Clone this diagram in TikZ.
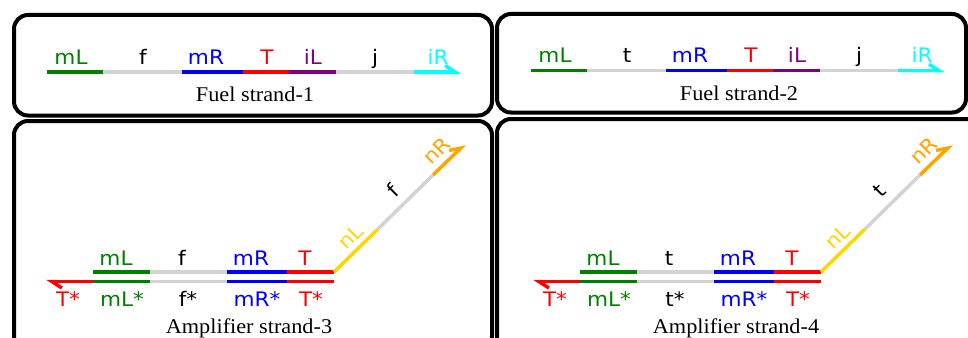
\documentclass[tikz,border=0pt]{standalone}
\usepackage{fontspec}
\setmainfont{Liberation Serif}[FakeStretch=1.06]
\newfontfamily\lblfont{DejaVu Sans}[FakeStretch=1.08]
\usetikzlibrary{arrows.meta}
\definecolor{dgreen}{RGB}{0,128,0}
\definecolor{dblue}{RGB}{0,0,255}
\definecolor{dred}{RGB}{255,0,0}
\definecolor{dpurple}{RGB}{128,0,128}
\definecolor{dcyan}{RGB}{0,255,255}
\definecolor{dgray}{RGB}{211,211,211}
\definecolor{dgold}{RGB}{255,215,0}
\definecolor{dorange}{RGB}{255,165,0}
\tikzset{
  panel/.style={draw=black, line width=4pt, rounded corners=14pt},
  seg/.style={line width=3.5pt},
  harp/.style={-{Straight Barb[harpoon,length=10pt,width=13pt]}},
  lbl/.style={font=\lblfont\fontsize{20}{21}\selectfont, anchor=base, inner sep=0pt},
  dlbl/.style={font=\lblfont\fontsize{20}{21}\selectfont, anchor=center, inner sep=0pt, rotate=45},
  captxt/.style={font=\fontsize{21}{22}\selectfont, anchor=base, inner sep=0pt},
}
\begin{document}
\begin{tikzpicture}[x=1pt,y=-1pt]
\useasboundingbox (0,0) rectangle (968,337);
\clip (0,0) rectangle (968,337);
\fill[white] (0,0) rectangle (968,337);

% panels
\draw[panel] (14,15) rectangle (492,115.5);
\draw[panel] (497,14) rectangle (966,112.5);
\draw[panel] (14,121) rectangle (492,350);
\draw[panel] (497,119) rectangle (990,350);

% ---------- Fuel strands ----------
\foreach \pre/\dx/\dy/\dom/\num in {f1-/0/0/f/1, f2-/484/1.3/t/2}{
\begin{scope}[xshift=\dx pt, yshift=\dy pt, name prefix=\pre]
  \coordinate (a0) at (47,72);
  \coordinate (a1) at (103,72);
  \coordinate (a2) at (182,72);
  \coordinate (a3) at (243,72);
  \coordinate (a4) at (289,72);
  \coordinate (a5) at (336,72);
  \coordinate (a6) at (414,72);
  \coordinate (a7) at (461,72);
  \draw[seg,dgreen] (a0) -- (a1);
  \draw[seg,dgray] (a1) -- (a2);
  \draw[seg,dblue] (a2) -- (a3);
  \draw[seg,dred] (a3) -- (a4);
  \draw[seg,dpurple] (a4) -- (a5);
  \draw[seg,dgray] (a5) -- (a6);
  \draw[seg,dcyan,harp] (a6) -- (a7);
  \node[lbl,text=dgreen] (lmL) at (71,64) {mL};
  \node[lbl,text=black] (ldom) at (143,64) {\dom};
  \node[lbl,text=dblue] (lmR) at (206,64) {mR};
  \node[lbl,text=dred] (lT) at (267,64) {T};
  \node[lbl,text=dpurple] (liL) at (313,64) {iL};
  \node[lbl,text=black] (lj) at (375,64) {j};
  \node[lbl,text=dcyan] (liR) at (438,64) {iR};
  \node[captxt] (caption) at (255,101.7) {Fuel strand-\num};
\end{scope}}

% ---------- Amplifier strands ----------
\foreach \pre/\dx/\dom/\num in {a3-/0/f/3, a4-/487/t/4}{
\begin{scope}[xshift=\dx pt, name prefix=\pre]
  % upper strand
  \coordinate (u1) at (93,272);
  \coordinate (u2) at (150,272);
  \coordinate (u3) at (227,272);
  \coordinate (u4) at (287,272);
  \coordinate (u5) at (334,272);
  \coordinate (d1) at (378,229);
  \coordinate (d2) at (433,175);
  \coordinate (d3) at (465,144);
  % lower strand
  \coordinate (b0) at (46,281.5);
  \coordinate (b1) at (93,281.5);
  \coordinate (b2) at (150,281.5);
  \coordinate (b3) at (227,281.5);
  \coordinate (b4) at (287,281.5);
  \coordinate (b5) at (334,281.5);
  \draw[seg,dgreen] (u1) -- (u2);
  \draw[seg,dgray] (u2) -- (u3);
  \draw[seg,dblue] (u3) -- (u4);
  \draw[seg,dred] (u4) -- (u5);
  \draw[seg,dgold] (u5) -- (d1);
  \draw[seg,dgray] (d1) -- (d2);
  \draw[seg,dorange,harp] (d2) -- (d3);
  \draw[seg,dred,harp] (b1) -- (b0);
  \draw[seg,dgreen] (b1) -- (b2);
  \draw[seg,dgray] (b2) -- (b3);
  \draw[seg,dblue] (b3) -- (b4);
  \draw[seg,dred] (b4) -- (b5);
  \node[lbl,text=dgreen] (lmL) at (116,265) {mL};
  \node[lbl,text=black] (ldom) at (182,265) {\dom};
  \node[lbl,text=dblue] (lmR) at (251,265) {mR};
  \node[lbl,text=dred] (lT) at (305,265) {T};
  \node[lbl,text=dred] (lTs1) at (68,306) {T*};
  \node[lbl,text=dgreen] (lmLs) at (122,306) {mL*};
  \node[lbl,text=black] (ldoms) at (188,306) {\dom*};
  \node[lbl,text=dblue] (lmRs) at (257,306) {mR*};
  \node[lbl,text=dred] (lTs2) at (311,306) {T*};
  \node[dlbl,text=dgold] (lnL) at (350.5,236.5) {nL};
  \node[dlbl,text=black] (ldomd) at (392.5,190.5) {\dom};
  \node[dlbl,text=dorange] (lnR) at (436.5,150.5) {nR};
  \node[captxt] (caption) at (249,333) {Amplifier strand-\num};
\end{scope}}
\end{tikzpicture}
\end{document}
